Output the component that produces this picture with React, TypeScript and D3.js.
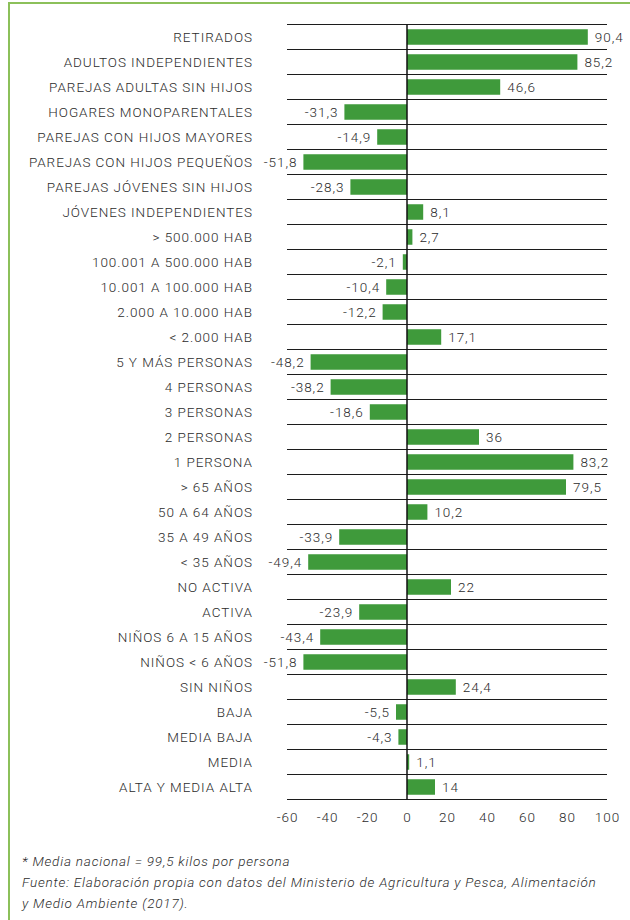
import React from 'react'
import * as d3 from 'd3'

const categories = [
  'RETIRADOS',
  'ADULTOS INDEPENDIENTES',
  'PAREJAS ADULTAS SIN HIJOS',
  'HOGARES MONOPARENTALES',
  'PAREJAS CON HIJOS MAYORES',
  'PAREJAS CON HIJOS PEQUEÑOS',
  'PAREJAS JÓVENES SIN HIJOS',
  'JÓVENES INDEPENDIENTES',
  '> 500.000 HAB',
  '100.001 A 500.000 HAB',
  '10.001 A 100.000 HAB',
  '2.000 A 10.000 HAB',
  '< 2.000 HAB',
  '5 Y MÁS PERSONAS',
  '4 PERSONAS',
  '3 PERSONAS',
  '2 PERSONAS',
  '1 PERSONA',
  '> 65 AÑOS',
  '50 A 64 AÑOS',
  '35 A 49 AÑOS',
  '< 35 AÑOS',
  'NO ACTIVA',
  'ACTIVA',
  'NIÑOS 6 A 15 AÑOS',
  'NIÑOS < 6 AÑOS',
  'SIN NIÑOS',
  'BAJA',
  'MEDIA BAJA',
  'MEDIA',
  'ALTA Y MEDIA ALTA',
]

const values = [
  90.4, 85.2, 46.6, -31.3, -14.9, -51.8, -28.3, 8.1, 2.7, -2.1, -10.4, -12.2, 17.1,
  -48.2, -38.2, -18.6, 36, 83.2, 79.5, 10.2, -33.9, -49.4, 22, -23.9, -43.4, -51.8,
  24.4, -5.5, -4.3, 1.1, 14,
]

const xTicks = [-60, -40, -20, 0, 20, 40, 60, 80, 100]

const notes = [
  '* Media nacional = 99,5 kilos por persona',
  'Fuente: Elaboración propia con datos del Ministerio de Agricultura y Pesca, Alimentación',
  'y Medio Ambiente (2017).',
]

const W = 630
const H = 920
const FONT = 'Roboto, "Noto Sans", sans-serif'
const TXT = '#2b2b2b'
const BAR = '#3f9a3b'
const LS = 0.95

const fmt = (v: number) => String(v).replace('.', ',')

const App = () => {
  const ref = React.useRef<SVGSVGElement | null>(null)

  React.useEffect(() => {
    const svg = d3.select(ref.current)
    svg.selectAll('*').remove()

    const plotTop = 24.5
    const plotBottom = 799.5

    const x = d3.scaleLinear().domain([-60, 100]).range([287, 607])
    const y = d3
      .scaleBand<string>()
      .domain(categories)
      .range([plotTop, plotBottom])
      .paddingInner(0.38)
      .paddingOuter(0.19)

    // marco verde
    svg.append('path')
      .attr('d', `M9,${H} V3 H${W}`)
      .attr('fill', 'none')
      .attr('stroke', '#8cc05a')
      .attr('stroke-width', 2)

    // lineas horizontales
    const step = y.step()
    svg.append('g')
      .selectAll('line')
      .data(d3.range(categories.length + 1))
      .enter()
      .append('line')
      .attr('x1', x(-60))
      .attr('x2', x(100))
      .attr('y1', (i) => plotTop + i * step)
      .attr('y2', (i) => plotTop + i * step)
      .attr('stroke', '#1c1c1c')
      .attr('stroke-width', 1.2)

    const data = categories.map((c, i) => ({ label: c, value: values[i] }))

    // barras
    svg.append('g')
      .selectAll('rect')
      .data(data)
      .enter()
      .append('rect')
      .attr('x', (d) => x(Math.min(0, d.value)))
      .attr('y', (d) => y(d.label) || 0)
      .attr('width', (d) => Math.abs(x(d.value) - x(0)))
      .attr('height', y.bandwidth())
      .attr('fill', BAR)

    // eje cero
    svg.append('line')
      .attr('x1', x(0))
      .attr('x2', x(0))
      .attr('y1', plotTop)
      .attr('y2', plotBottom)
      .attr('stroke', '#111')
      .attr('stroke-width', 1.5)

    const style = (sel: any, ls = LS) =>
      sel
        .attr('font-family', FONT)
        .attr('font-size', 13.5)
        .attr('font-weight', 300)
        .attr('letter-spacing', ls)
        .attr('fill', TXT)

    // etiquetas categorias
    svg.append('g')
      .selectAll('text')
      .data(data)
      .enter()
      .append('text')
      .attr('x', 252 + LS)
      .attr('y', (d) => (y(d.label) || 0) + y.bandwidth() / 2)
      .attr('dy', '0.36em')
      .attr('text-anchor', 'end')
      .call(style)
      .text((d) => d.label)

    // valores
    svg.append('g')
      .selectAll('text')
      .data(data)
      .enter()
      .append('text')
      .attr('x', (d) => (d.value >= 0 ? x(d.value) + 7 : x(d.value) - 6))
      .attr('y', (d) => (y(d.label) || 0) + y.bandwidth() / 2)
      .attr('dy', '0.36em')
      .attr('text-anchor', (d) => (d.value >= 0 ? 'start' : 'end'))
      .call(style)
      .text((d) => fmt(d.value))

    // eje x
    const axis = svg.append('g')
      .attr('transform', `translate(0,${plotBottom})`)
      .call(d3.axisBottom(x).tickValues(xTicks).tickSize(0).tickPadding(13).tickFormat((d) => String(d)))
    axis.select('.domain').remove()
    axis.selectAll('text').call(style)

    // notas
    svg.append('g')
      .selectAll('text')
      .data(notes)
      .enter()
      .append('text')
      .attr('x', 22)
      .attr('y', (d, i) => 866 + i * 21)
      .attr('font-style', 'italic')
      .call(style, 0.8)
      .text((d) => d)
  }, [])

  return (
    <svg
      ref={ref}
      width={W}
      height={H}
      style={{ position: 'absolute', left: 0, top: 0, background: '#fff' }}
    ></svg>
  )
}

export default App
